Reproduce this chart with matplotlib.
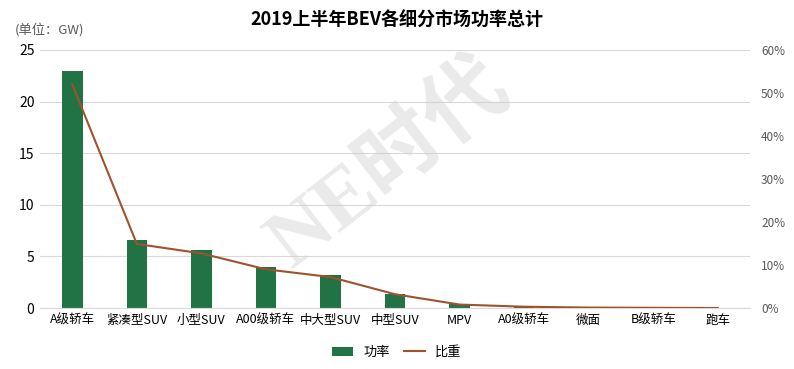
import matplotlib.pyplot as plt

plt.rcParams['font.family'] = ['Noto Sans CJK SC', 'DejaVu Sans']

categories = ['A级轿车', '紧凑型SUV', '小型SUV', 'A00级轿车', '中大型SUV', '中型SUV',
              'MPV', 'A0级轿车', '微面', 'B级轿车', '跑车']
power = [23.0, 6.6, 5.6, 4.0, 3.2, 1.4, 0.35, 0.12, 0.05, 0.02, 0.0]
share = [0.52, 0.149, 0.127, 0.090, 0.072, 0.032, 0.008, 0.003, 0.001, 0.0005, 0.0]

bar_color = '#217346'
line_color = '#A0522D'

fig = plt.figure(figsize=(7.94, 3.69), dpi=100)
ax = fig.add_axes([0.0504, 0.1653, 0.8942, 0.6992])
x = list(range(len(categories)))

ax.bar(x, power, width=0.32, color=bar_color, label='功率', zorder=2)
ax.set_ylim(0, 25)
ax.set_yticks([0, 5, 10, 15, 20, 25])
ax.set_xlim(-0.5, len(categories) - 0.5)
ax.set_xticks(x)
ax.set_xticklabels(categories)
ax.grid(axis='y', color='#d9d9d9', linewidth=0.8, zorder=0)
ax.tick_params(axis='x', length=0, labelsize=9, pad=4)
ax.tick_params(axis='y', length=0, labelsize=10, pad=4)
for s in ['top', 'left', 'right']:
    ax.spines[s].set_visible(False)
ax.spines['bottom'].set_color('#d9d9d9')

ax2 = ax.twinx()
ax2.plot(x, share, color=line_color, linewidth=1.5, label='比重', zorder=3)
ax2.set_ylim(0, 0.6)
ax2.set_yticks([0, 0.1, 0.2, 0.3, 0.4, 0.5, 0.6])
ax2.set_yticklabels(['0%', '10%', '20%', '30%', '40%', '50%', '60%'])
ax2.tick_params(axis='y', length=0, labelsize=8.5, labelcolor='#595959', pad=8)
for s in ax2.spines.values():
    s.set_visible(False)

# watermark
fig.text(0.49, 0.55, 'NE时代', fontsize=60, color='#d0d0d0', alpha=0.45,
         rotation=38, ha='center', va='center',
         family=['Liberation Serif', 'Noto Sans CJK SC'], fontweight='bold', zorder=0)

fig.text(0.5, 0.945, '2019上半年BEV各细分市场功率总计', ha='center', va='center',
         fontsize=13, fontweight='bold')
fig.text(0.018, 0.92, '(单位：GW)', ha='left', va='center', fontsize=9.5, color='#595959')

h1, l1 = ax.get_legend_handles_labels()
h2, l2 = ax2.get_legend_handles_labels()
fig.legend(h1 + h2, l1 + l2, loc='center', bbox_to_anchor=(0.5, 0.045), ncol=2,
           frameon=False, fontsize=9.5, handlelength=1.6, columnspacing=1.0)

fig.savefig('out.png', dpi=100)
